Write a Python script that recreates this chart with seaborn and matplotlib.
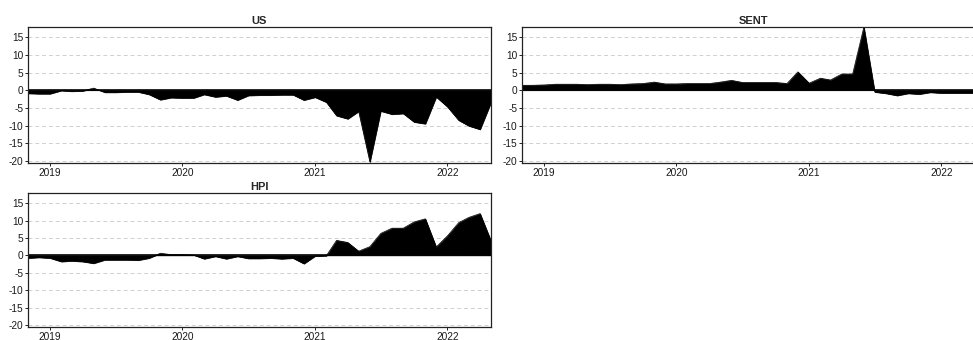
import numpy as np
import pandas as pd
import matplotlib
matplotlib.use("Agg")
import matplotlib.pyplot as plt
import matplotlib.dates as mdates
import seaborn as sns

dates = pd.date_range("2018-11-01", "2022-05-01", freq="MS")

us = [-0.9, -1.0, -1.0, -0.1, -0.3, -0.2, 0.6, -0.6, -0.6, -0.5, -0.5, -1.2,
      -2.7, -2.1, -2.2, -2.2, -1.2, -1.9, -1.6, -2.8, -1.5, -1.4, -1.4, -1.3,
      -1.3, -2.8, -2.0, -3.4, -7.2, -8.1, -6.0, -20.3, -5.9, -6.8, -6.6, -9.0,
      -9.5, -1.9, -4.7, -8.5, -10.1, -11.1, -3.5]
sent = [1.4, 1.4, 1.5, 1.7, 1.7, 1.7, 1.6, 1.7, 1.7, 1.6, 1.8, 1.9,
        2.3, 1.8, 1.8, 1.9, 1.9, 1.9, 2.3, 2.8, 2.2, 2.2, 2.2, 2.2,
        1.9, 5.2, 2.0, 3.4, 2.9, 4.6, 4.6, 17.9, -0.5, -0.9, -1.5, -0.9,
        -1.1, -0.6, -0.8, -0.8, -0.8, -0.8, -0.8]
hpi = [-0.8, -0.6, -0.8, -1.8, -1.6, -1.8, -2.3, -1.3, -1.3, -1.3, -1.4, -0.8,
       0.6, 0.2, 0.2, 0.1, -1.0, -0.3, -1.0, -0.3, -0.9, -0.9, -0.8, -1.0,
       -0.8, -2.4, -0.2, -0.1, 4.3, 3.7, 1.2, 2.5, 6.3, 7.8, 7.8, 9.6,
       10.5, 2.4, 5.6, 9.4, 10.9, 12.0, 4.2]

titles = ["US", "SENT", "HPI"]
series = [us, sent, hpi]
yticks = [-20, -15, -10, -5, 0, 5, 10, 15]

sns.set_style("white")
plt.rcParams["font.family"] = ["Liberation Sans", "DejaVu Sans"]

fig = plt.figure(figsize=(9.73, 3.40), dpi=100)
W = 0.4758
positions = [
    [0.0288, 0.5206, W, 0.400],
    [0.5365, 0.5206, W, 0.400],
    [0.0288, 0.0382, W, 0.394],
]

for title, vals, pos in zip(titles, series, positions):
    ax = fig.add_axes(pos)
    df = pd.DataFrame({"date": dates, "value": vals})
    ax.fill_between(df["date"], 0, df["value"], color="black", lw=0.5,
                    edgecolor="black")
    sns.lineplot(data=df, x="date", y="value", ax=ax, color="black", lw=0.5)
    ax.axhline(0, color="black", lw=1.2)
    ax.set_xlim(dates[0], dates[-1])
    ax.set_ylim(-20.6, 17.9)
    ax.set_yticks(yticks)
    ax.set_yticklabels([str(t) for t in yticks])
    ax.xaxis.set_major_locator(mdates.YearLocator())
    ax.xaxis.set_major_formatter(mdates.DateFormatter("%Y"))
    ax.set_xlabel("")
    ax.set_ylabel("")
    ax.set_title(title, fontsize=8, fontweight="bold", pad=2)
    for y in yticks:
        ax.axhline(y, color="#d0d0d0", lw=0.7, ls=(0, (4, 3)), zorder=0)
    ax.tick_params(axis="both", labelsize=7.3, length=2.5, width=0.6,
                   pad=1, colors="black", labelcolor="#1a1a1a",
                   bottom=True, left=True)
    for s in ax.spines.values():
        s.set_color("#222222")
        s.set_linewidth(0.9)

fig.savefig("out.png", dpi=100)
